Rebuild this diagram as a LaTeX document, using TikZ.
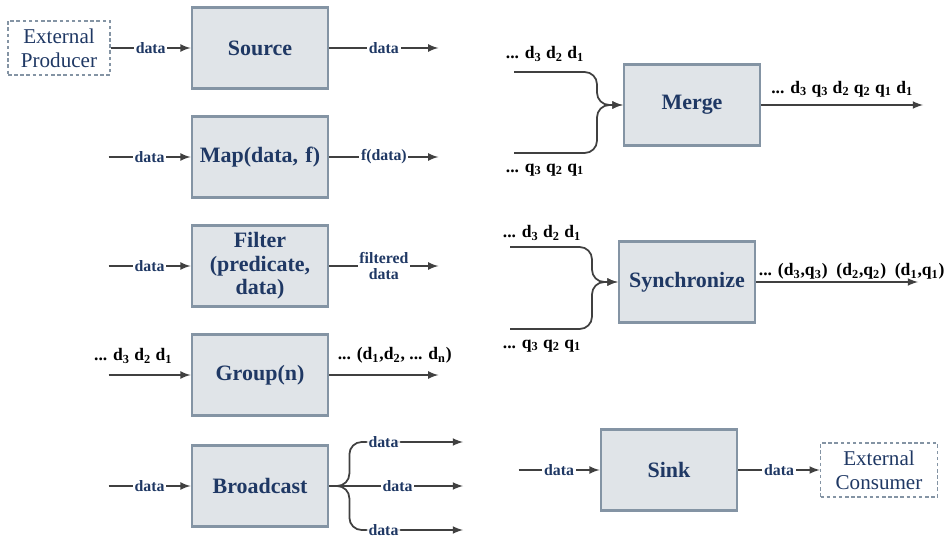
\documentclass[tikz,border=0pt]{standalone}
\usepackage{fontspec}
\setmainfont{Liberation Serif}
\usetikzlibrary{positioning,arrows}

\definecolor{navy}{HTML}{1F3864}
\definecolor{boxline}{HTML}{8494A4}
\definecolor{boxfill}{HTML}{E0E4E8}
\definecolor{wirecol}{HTML}{404040}
\newcommand{\sub}[1]{\textsubscript{#1}}

\begin{document}
\begin{tikzpicture}[x=0.02cm,y=-0.02cm,>=latex,
    op/.style={draw=boxline, line width=1.2pt, fill=boxfill,
        minimum width=2.7cm, minimum height=1.62cm, text width=2.5cm, align=center,
        font=\fontsize{12.5}{13.3}\selectfont\bfseries, text=navy},
    ext/.style={draw=boxline, line width=0.9pt, dash pattern=on 2pt off 1.5pt,
        minimum width=2.04cm, minimum height=1.08cm, align=center,
        font=\fontsize{12}{13.5}\selectfont, text=navy},
    lbl/.style={fill=white, inner sep=1pt, align=center,
        font=\fontsize{9}{9.5}\selectfont\bfseries, text=navy},
    seq/.style={inner sep=1pt, font=\fontsize{10}{12}\selectfont\bfseries, text=black},
    wire/.style={draw=wirecol, line width=1pt, ->}]

    \useasboundingbox (0,0) rectangle (950,537);

    % left column
    \node[ext] (producer) at (59,48) {External\\Producer};
    \node[op] (source) at (260,48) {Source};
    \node[op] (map) at (260,157) {Map(data, f)};
    \node[op] (filter) at (260,266) {Filter\\(predicate,\\data)};
    \node[op] (group) at (260,375) {Group(n)};
    \node[op] (bcast) at (260,486) {Broadcast};

    \coordinate[right=2.18cm of source.east] (srcout);
    \coordinate[left=1.64cm of map.west] (mapin);
    \coordinate[right=2.18cm of map.east] (mapout);
    \coordinate[left=1.64cm of filter.west] (filtin);
    \coordinate[right=2.18cm of filter.east] (filtout);
    \coordinate[left=1.64cm of group.west] (grpin);
    \coordinate[right=2.18cm of group.east] (grpout);
    \coordinate[left=1.64cm of bcast.west] (bcin);
    \coordinate (bc1) at (463,442);
    \coordinate (bc2) at (463,486);
    \coordinate (bc3) at (463,530);

    \draw[wire] (producer) -- node[lbl] {data} (source);
    \draw[wire] (source) -- node[lbl] {data} (srcout);
    \draw[wire] (mapin) -- node[lbl] {data} (map);
    \draw[wire] (map) -- node[lbl] {f(data)} (mapout);
    \draw[wire] (filtin) -- node[lbl] {data} (filter);
    \draw[wire] (filter) -- node[lbl] {filtered\\data} (filtout);
    \draw[wire] (grpin) -- node[seq, above=5pt, pos=0.3] (grpinlbl) {... d\sub{3} d\sub{2} d\sub{1}} (group);
    \draw[wire] (group) -- node[seq, above=5pt, pos=0.6] (grpoutlbl) {... (d\sub{1},d\sub{2}, ... d\sub{n})} (grpout);
    \draw[wire] (bcin) -- node[lbl] {data} (bcast);
    \draw[wire, rounded corners=7] (bcast.east) -- ++(20,0) |- node[lbl, pos=0.65] {data} (bc1);
    \draw[wire] (bcast) -- node[lbl, pos=0.51] {data} (bc2);
    \draw[wire, rounded corners=7] (bcast.east) -- ++(20,0) |- node[lbl, pos=0.65] {data} (bc3);

    % right column
    \node[op] (merge) at (692,105) {Merge};
    \node[op] (sync) at (687,282) {Synchronize};
    \node[op] (sink) at (669,470) {Sink};
    \node[ext, minimum width=2.34cm] (consumer) at (879,470) {External\\Consumer};

    \coordinate (mtop) at (514,72);
    \coordinate (mbot) at (514,153);
    \coordinate (mjoin) at (597,105);
    \coordinate (mout) at (923,105);
    \coordinate (stop) at (510,247);
    \coordinate (sbot) at (510,329);
    \coordinate (sjoin) at (592,282);
    \coordinate (sout) at (918,282);
    \coordinate[left=1.62cm of sink.west] (sinkin);

    \node[seq] (mtoplbl) at (545,54) {... d\sub{3} d\sub{2} d\sub{1}};
    \node[seq] (mbotlbl) at (545,170) {... q\sub{3} q\sub{2} q\sub{1}};
    \node[seq] (stoplbl) at (542,233) {... d\sub{3} d\sub{2} d\sub{1}};
    \node[seq] (sbotlbl) at (542,346) {... q\sub{3} q\sub{2} q\sub{1}};

    \draw[wire, rounded corners=7] (mtop) -| (mjoin) -- (merge);
    \draw[wire, rounded corners=7] (mbot) -| (mjoin) -- (merge);
    \draw[wire] (merge) -- node[seq, above=3pt] (moutlbl) {... d\sub{3} q\sub{3} d\sub{2} q\sub{2} q\sub{1} d\sub{1}} (mout);

    \draw[wire, rounded corners=7] (stop) -| (sjoin) -- (sync);
    \draw[wire, rounded corners=7] (sbot) -| (sjoin) -- (sync);
    \draw[wire] (sync) -- node[seq, anchor=south, pos=0.59] (soutlbl) {... (d\sub{3},q\sub{3})\ \ (d\sub{2},q\sub{2})\ \ (d\sub{1},q\sub{1})} (sout);

    \draw[wire] (sinkin) -- node[lbl] {data} (sink);
    \draw[wire] (sink) -- node[lbl] {data} (consumer);

\end{tikzpicture}
\end{document}
